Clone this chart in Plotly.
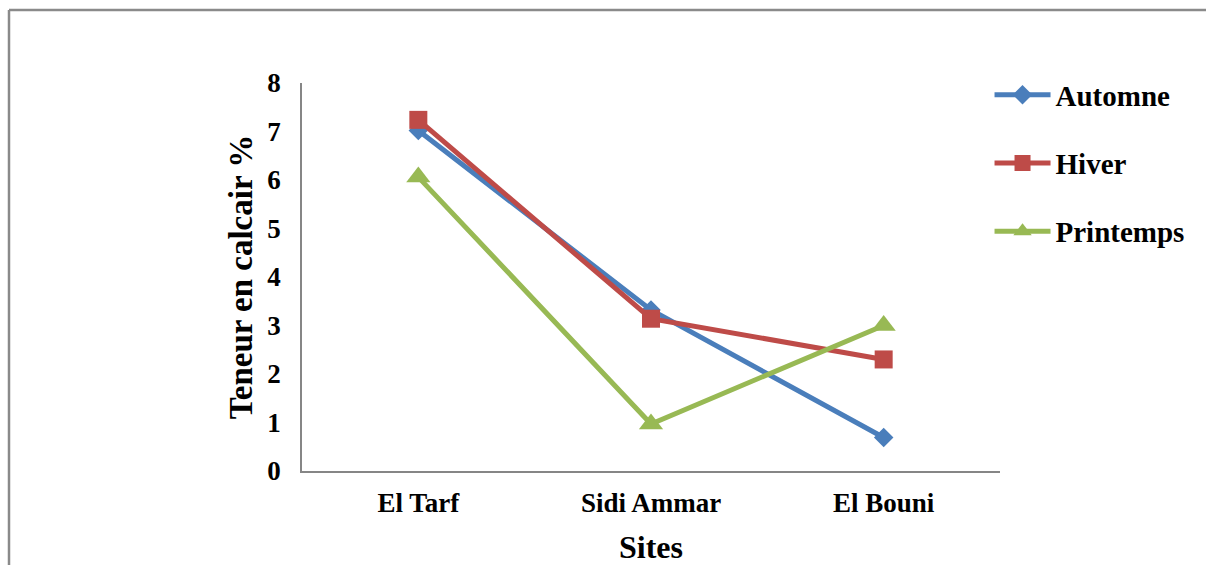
import plotly.graph_objects as go

# Calcium carbonate content (%) by site and season
sites = ["El Tarf", "Sidi Ammar", "El Bouni"]
automne = [7.02, 3.32, 0.69]
hiver = [7.24, 3.14, 2.30]
printemps = [6.06, 0.97, 3.0]

y_ticks = [0, 1, 2, 3, 4, 5, 6, 7, 8]

FONT = "Liberation Serif"
AXIS_GREY = "#868686"
FRAME_GREY = "#8A8A8A"

series = [
    ("Automne", automne, "#4A7EBB", "diamond", 15),
    ("Hiver", hiver, "#BE4B48", "square", 18),
    ("Printemps", printemps, "#98B954", "triangle-up", 21),
]

fig = go.Figure()
for name, values, color, symbol, msize in series:
    fig.add_trace(go.Scatter(
        x=sites, y=values, name=name, mode="lines+markers",
        legendgroup=name,
        line=dict(color=color, width=5),
        marker=dict(symbol=symbol, size=msize, color=color),
    ))

# plot area spans x 302..1000 px and y 83..471 px
L, R, T, B = 302, 1000, 83, 471
W, H = 1206, 565

fig.update_layout(
    width=W, height=H,
    margin=dict(l=L, r=W - R, t=T, b=H - B, autoexpand=False),
    paper_bgcolor="white", plot_bgcolor="white",
    font=dict(family=FONT, color="black", weight="bold"),
    showlegend=True,
    legend=dict(
        x=0.985, y=1.035, xanchor="left", yanchor="top",
        font=dict(family=FONT, size=29, color="black", weight="bold"),
        tracegroupgap=27.5, itemwidth=56,
        bgcolor="rgba(0,0,0,0)",
    ),
    xaxis=dict(
        type="category", range=[-0.5, 2.5], automargin=False,
        showline=True, linecolor=AXIS_GREY, linewidth=1.5,
        showgrid=False, zeroline=False, ticks="",
        tickfont=dict(family=FONT, size=27, weight="bold"),
        ticklabelstandoff=7,
        title=dict(text="Sites", font=dict(family=FONT, size=32, weight="bold"), standoff=18),
    ),
    yaxis=dict(
        range=[0, 8], tickvals=y_ticks, automargin=False,
        showline=True, linecolor=AXIS_GREY, linewidth=1.5,
        showgrid=False, zeroline=False, ticks="",
        tickfont=dict(family=FONT, size=27, weight="bold"),
        ticklabelstandoff=14,
        title=dict(text="Teneur en calcair %", font=dict(family=FONT, size=33, weight="bold"), standoff=5),
    ),
)

# Outer chart frame (top and left edges)
def px_x(v):
    return (v - L) / (R - L)

def px_y(v):
    return (B - v) / (B - T)

fig.add_shape(type="line", xref="paper", yref="paper",
              x0=px_x(9), x1=px_x(W), y0=px_y(10), y1=px_y(10),
              line=dict(color=FRAME_GREY, width=2.5))
fig.add_shape(type="line", xref="paper", yref="paper",
              x0=px_x(9), x1=px_x(9), y0=px_y(10), y1=px_y(H + 5),
              line=dict(color=FRAME_GREY, width=2.5))

fig.write_html("out.html")
